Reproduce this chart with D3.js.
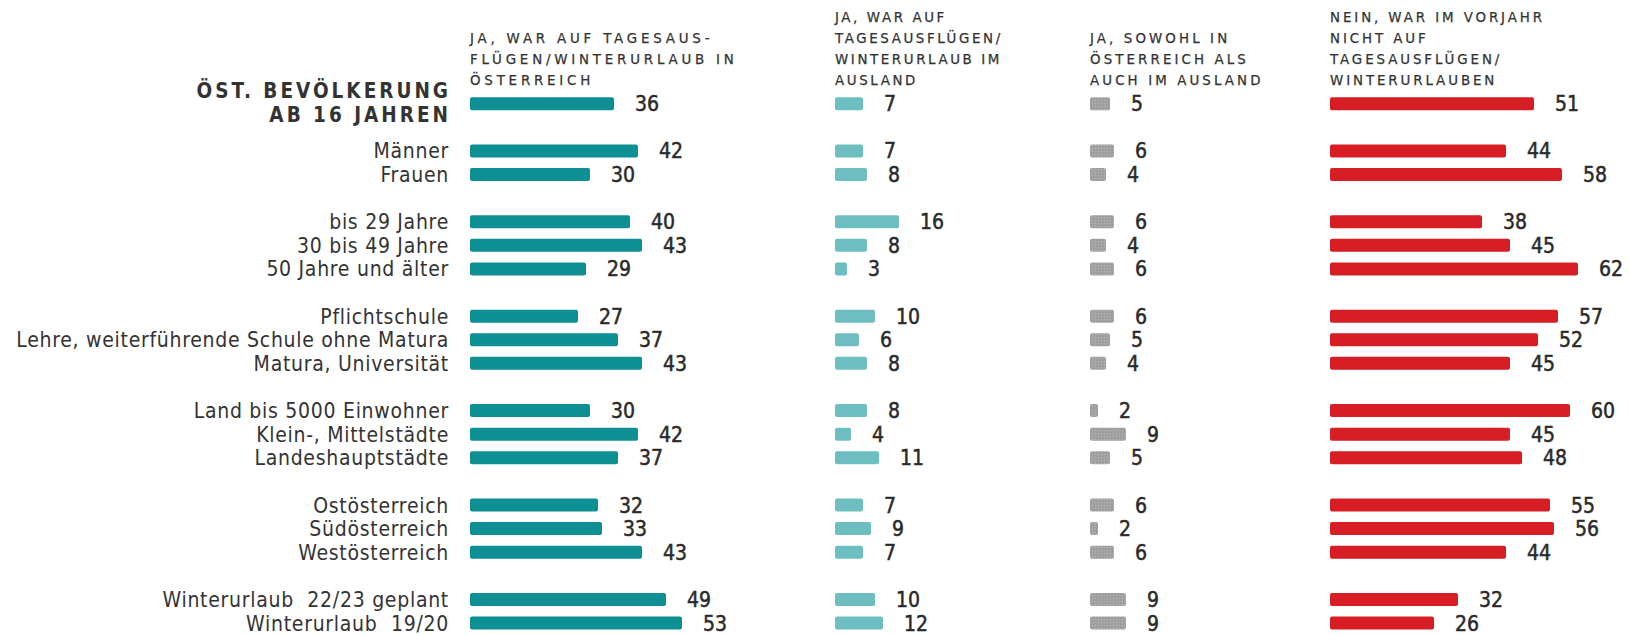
<!DOCTYPE html>
<html><head><meta charset="utf-8">
<script src="https://cdn.jsdelivr.net/npm/d3@7"></script>
<style>
html,body{margin:0;padding:0;background:#fff;}
svg{display:block;}
</style></head>
<body>
<svg id="chart" width="1629" height="635"></svg>
<script>
// ---- data ----
const categories = [
  "ÖST. BEVÖLKERUNG|AB 16 JAHREN",
  "Männer", "Frauen",
  "bis 29 Jahre", "30 bis 49 Jahre", "50 Jahre und älter",
  "Pflichtschule", "Lehre, weiterführende Schule ohne Matura", "Matura, Universität",
  "Land bis 5000 Einwohner", "Klein-, Mittelstädte", "Landeshauptstädte",
  "Ostösterreich", "Südösterreich", "Westösterreich",
  "Winterurlaub\u00a0 22/23 geplant", "Winterurlaub\u00a0 19/20"
];
const groups = [0, 1,1, 2,2,2, 3,3,3, 4,4,4, 5,5,5, 6,6];
const inAustria   = [36, 42,30, 40,43,29, 27,37,43, 30,42,37, 32,33,43, 49,53];
const abroad      = [7, 7,8, 16,8,3, 10,6,8, 8,4,11, 7,9,7, 10,12];
const both        = [5, 6,4, 6,4,6, 6,5,4, 2,9,5, 6,2,6, 9,9];
const none        = [51, 44,58, 38,45,62, 57,52,45, 60,45,48, 55,56,44, 32,26];
const seriesHeaders = [
  ["JA, WAR AUF TAGESAUS-", "FLÜGEN/WINTERURLAUB IN", "ÖSTERREICH"],
  ["JA, WAR AUF", "TAGESAUSFLÜGEN/", "WINTERURLAUB IM", "AUSLAND"],
  ["JA, SOWOHL IN", "ÖSTERREICH ALS", "AUCH IM AUSLAND"],
  ["NEIN, WAR IM VORJAHR", "NICHT AUF", "TAGESAUSFLÜGEN/", "WINTERURLAUBEN"]
];

// ---- layout ----
const colX = [470, 835, 1090, 1330];
const headerSpacing = [3.8, 2.6, 3.1, 2.9];
const colColors = ["#0e8f93", "#6cbec1", "url(#grayTex)", "#d81e25"];
const seriesList = [inAustria, abroad, both, none];

const svg = d3.select("#chart");
const defs = svg.append("defs");
const pat = defs.append("pattern").attr("id", "grayTex")
  .attr("patternUnits", "userSpaceOnUse").attr("width", 3).attr("height", 3);
pat.append("rect").attr("width", 3).attr("height", 3).attr("fill", "#a4a4a4");
pat.append("rect").attr("x", 0).attr("y", 0).attr("width", 1).attr("height", 1).attr("fill", "#949494");
pat.append("rect").attr("x", 2).attr("y", 1).attr("width", 1).attr("height", 1).attr("fill", "#b2b2b2");
pat.append("rect").attr("x", 1).attr("y", 2).attr("width", 1).attr("height", 1).attr("fill", "#999");

const slots = groups.map((g, i) => i + g);
const y = d3.scaleLinear().domain([0, d3.max(slots)]).range([103.7, 623]);
const x = d3.scaleLinear().domain([0, 100]).range([0, 400]);
const barH = 13;

// headers
seriesHeaders.forEach((lines, c) => {
  const n = lines.length;
  const t = svg.append("text")
    .attr("x", colX[c]).attr("font-family", "DejaVu Sans")
    .attr("font-size", 13.4).attr("letter-spacing", headerSpacing[c]).attr("fill", "#333")
    .attr("stroke", "#333").attr("stroke-width", 0.25);
  lines.forEach((ln, k) => {
    t.append("tspan").attr("x", colX[c]).attr("y", 85 - (n - 1 - k) * 20.9).text(ln);
  });
});

// row labels
const labelX = 449;
categories.forEach((cat, i) => {
  const cy = y(slots[i]);
  if (i === 0) {
    const parts = cat.split("|");
    [97.5, 121.5].forEach((yy, k) => {
      svg.append("text").attr("x", labelX + 2).attr("y", yy)
        .attr("text-anchor", "end").attr("font-family", "DejaVu Sans Condensed")
        .attr("font-weight", "bold").attr("font-size", 20.5).attr("letter-spacing", 3.0)
        .attr("fill", "#333").text(parts[k]);
    });
  } else {
    svg.append("text").attr("x", labelX).attr("y", cy).attr("dy", "0.36em")
      .attr("text-anchor", "end").attr("font-family", "DejaVu Sans Condensed")
      .attr("font-size", 21).attr("letter-spacing", 0.72).attr("fill", "#333").text(cat);
  }
});

// bars and values
seriesList.forEach((vals, c) => {
  const g = svg.append("g").attr("transform", `translate(${colX[c]},0)`);
  g.selectAll("rect").data(vals).join("rect")
    .attr("x", 0)
    .attr("y", (d, i) => y(slots[i]) - barH / 2)
    .attr("width", d => x(d))
    .attr("height", barH)
    .attr("rx", 2)
    .attr("fill", colColors[c]);
  g.selectAll("text").data(vals).join("text")
    .attr("x", d => x(d) + 21)
    .attr("y", (d, i) => y(slots[i]))
    .attr("dy", "0.36em")
    .attr("font-family", "DejaVu Sans Condensed")
    .attr("font-size", 21)
    .attr("fill", "#2a2a2a")
    .attr("stroke", "#2a2a2a").attr("stroke-width", 0.5)
    .text(d => d);
});
</script>
</body></html>
